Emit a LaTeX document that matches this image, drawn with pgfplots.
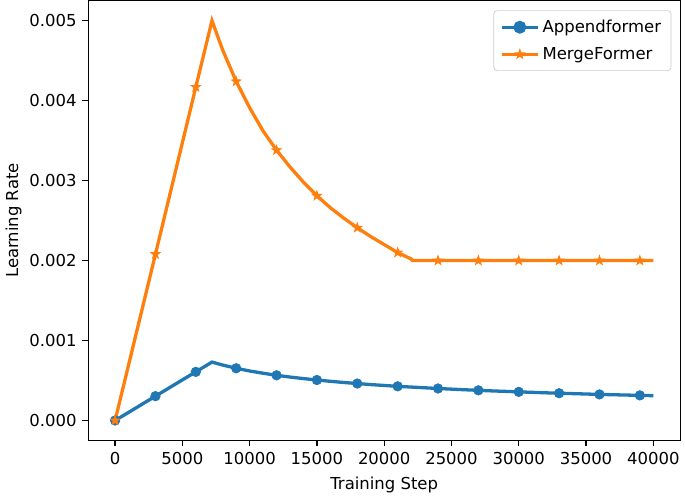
\documentclass[border=0pt]{standalone}
\usepackage{pgfplots}
\pgfplotsset{compat=1.18}
\usepackage{fontspec}
\setmainfont{DejaVu Sans}
\definecolor{tabblue}{HTML}{1F77B4}
\definecolor{taborange}{HTML}{FF7F0E}
\pgfdeclareplotmark{fstar}{%
 \pgfpathmoveto{\pgfpointpolar{90}{\pgfplotmarksize}}%
 \pgfpathlineto{\pgfpointpolar{126}{0.4\pgfplotmarksize}}%
 \pgfpathlineto{\pgfpointpolar{162}{\pgfplotmarksize}}%
 \pgfpathlineto{\pgfpointpolar{198}{0.4\pgfplotmarksize}}%
 \pgfpathlineto{\pgfpointpolar{234}{\pgfplotmarksize}}%
 \pgfpathlineto{\pgfpointpolar{270}{0.4\pgfplotmarksize}}%
 \pgfpathlineto{\pgfpointpolar{306}{\pgfplotmarksize}}%
 \pgfpathlineto{\pgfpointpolar{342}{0.4\pgfplotmarksize}}%
 \pgfpathlineto{\pgfpointpolar{18}{\pgfplotmarksize}}%
 \pgfpathlineto{\pgfpointpolar{54}{0.4\pgfplotmarksize}}%
 \pgfpathclose
 \pgfusepathqfillstroke
}
\begin{document}
\begin{tikzpicture}
\begin{axis}[
  scale only axis,
  width=359.4pt, height=267pt,
  font=\fontsize{10}{12}\selectfont,
  xmin=-2000, xmax=42000,
  ymin=-0.00025, ymax=0.00525,
  xtick={0,5000,...,40000},
  ytick={0,0.001,0.002,0.003,0.004,0.005},
  scaled x ticks=false, scaled y ticks=false,
  xticklabel style={/pgf/number format/.cd, fixed, 1000 sep={}, assume math mode=true},
  yticklabel style={/pgf/number format/.cd, fixed, fixed zerofill, precision=3, assume math mode=true},
  tick align=outside,
  major tick length=3.5pt,
  tick style={black, line width=0.8pt},
  axis line style={line width=0.8pt},
  xtick pos=left, ytick pos=left,
  xlabel={Training Step},
  ylabel={Learning Rate},
  xlabel style={yshift=-1pt},
  ylabel style={yshift=-2pt},
  legend style={at={(0.985,0.978)}, anchor=north east, draw=black!20, rounded corners=2pt,
    font=\fontsize{10}{12}\selectfont, inner xsep=4pt, inner ysep=3.5pt, row sep=3.5pt},
  legend cell align=left,
  legend image code/.code={%
    \draw[#1, mark repeat=2, mark phase=2] plot coordinates {(0cm,0cm) (0.38cm,0cm) (0.76cm,0cm)};},
]
% Appendformer line
\addplot[tabblue, line width=2pt, forget plot] coordinates {
(0,0) (1000,0.000101) (2000,0.000203) (3000,0.000304) (4000,0.000406) (5000,0.000507)
(6000,0.000608) (7000,0.000710) (7200,0.00073) (8000,0.000693) (9000,0.000653)
(10000,0.000619) (11000,0.000591) (12000,0.000565) (13000,0.000543) (14000,0.000524)
(15000,0.000506) (16000,0.000490) (17000,0.000475) (18000,0.000462) (19000,0.000449)
(20000,0.000438) (21000,0.000427) (22000,0.000418) (24000,0.000400) (26000,0.000384)
(27000,0.000377) (28000,0.000370) (30000,0.000358) (32000,0.000346) (33000,0.000341)
(34000,0.000336) (36000,0.000326) (38000,0.000318) (39000,0.000314) (40000,0.000310)
};
\addplot[only marks, mark=*, mark size=2.9pt, tabblue, forget plot] coordinates {
(0,0) (3000,0.000304) (6000,0.000608) (9000,0.000653) (12000,0.000565) (15000,0.000506)
(18000,0.000462) (21000,0.000427) (24000,0.000400) (27000,0.000377) (30000,0.000358)
(33000,0.000341) (36000,0.000326) (39000,0.000314)
};
% MergeFormer line
\addplot[taborange, line width=2pt, forget plot] coordinates {
(0,0) (3000,0.00208) (6000,0.00417) (7200,0.00500) (8000,0.00463) (9000,0.00424)
(10000,0.00391) (11000,0.00362) (12000,0.00338) (13000,0.00317) (14000,0.00298)
(15000,0.00281) (16000,0.00266) (17000,0.00253) (18000,0.00241) (19000,0.00230)
(20000,0.00220) (21000,0.00210) (22000,0.00202) (22100,0.00200) (24000,0.00200)
(27000,0.00200) (30000,0.00200) (33000,0.00200) (36000,0.00200) (39000,0.00200) (40000,0.00200)
};
\addplot[only marks, mark=fstar, mark size=2.8pt, taborange, line width=0.6pt, forget plot] coordinates {
(0,0) (3000,0.00208) (6000,0.00417) (9000,0.00424) (12000,0.00338) (15000,0.00281)
(18000,0.00241) (21000,0.00210) (24000,0.00200) (27000,0.00200) (30000,0.00200)
(33000,0.00200) (36000,0.00200) (39000,0.00200)
};
\addlegendimage{tabblue, line width=2pt, mark=*, mark size=2.9pt}
\addlegendentry{Appendformer}
\addlegendimage{taborange, line width=2pt, mark=fstar, mark size=2.8pt, mark options={line width=0.6pt}}
\addlegendentry{MergeFormer}
\end{axis}
\end{tikzpicture}
\end{document}
